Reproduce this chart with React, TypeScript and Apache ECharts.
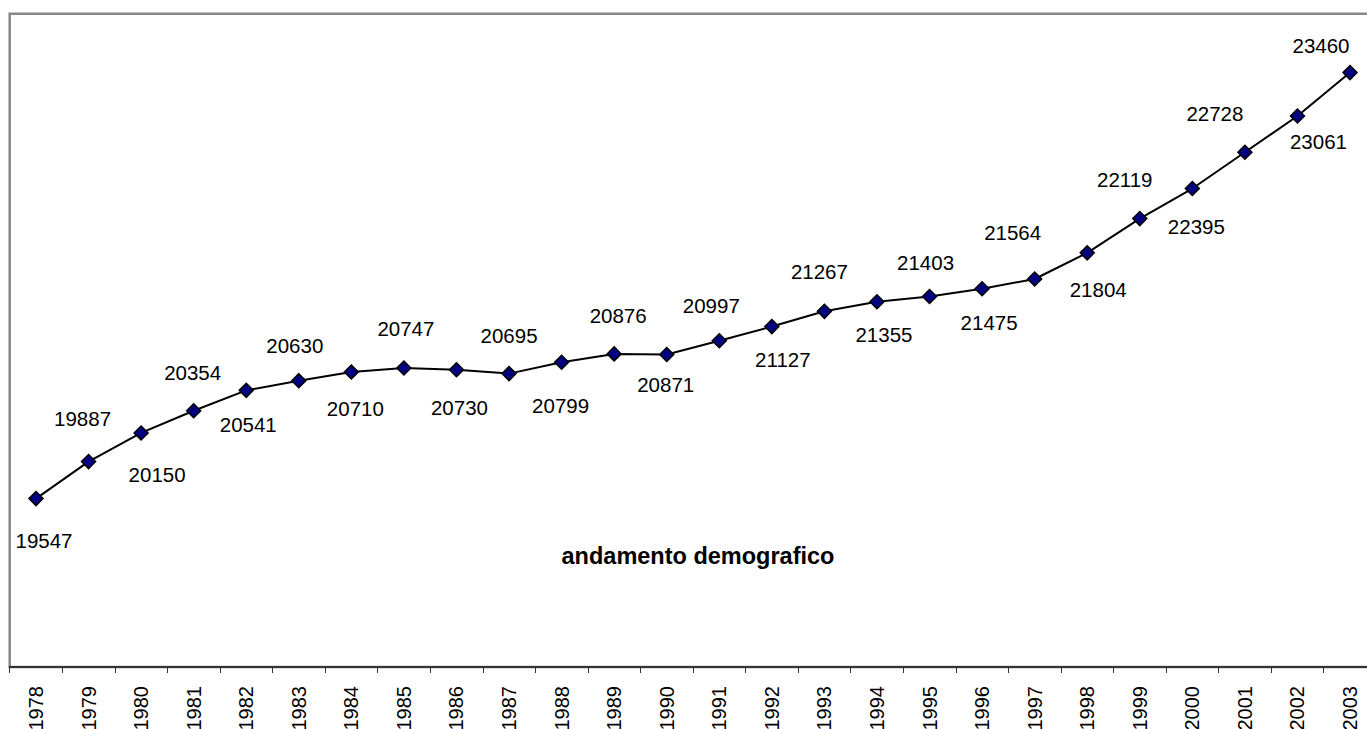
import React, { useEffect, useRef } from "react";
import * as echarts from "echarts";

const years = ["1978","1979","1980","1981","1982","1983","1984","1985","1986","1987","1988","1989","1990","1991","1992","1993","1994","1995","1996","1997","1998","1999","2000","2001","2002","2003"];
const population = [19547,19887,20150,20354,20541,20630,20710,20747,20730,20695,20799,20876,20871,20997,21127,21267,21355,21403,21475,21564,21804,22119,22395,22728,23061,23460];
// label offsets relative to the marker (dx, dy)
const labelOffsets: [number, number][] = [
  [8, 42], [-6, -43], [16, 42], [-1, -38], [2, 34], [-4, -35], [4, 37], [2, -39], [3, 38], [0, -38],
  [-1, 43], [4, -38], [-1, 30], [-8, -35], [11, 33], [-5, -40], [7, 33], [-4, -34], [7, 34], [-22, -46],
  [11, 37], [-15, -39], [4, 38], [-30, -39], [21, 25], [-29, -27],
];
const title = "andamento demografico";

export default function App() {
  const ref = useRef<HTMLDivElement>(null);
  useEffect(() => {
    if (!ref.current) return;
    const chart = echarts.init(ref.current, null, { renderer: "svg" });
    const font = "'Liberation Sans', Arial, sans-serif";
    chart.setOption({
      animation: false,
      backgroundColor: "#ffffff",
      title: {
        text: title,
        left: 698,
        top: 544,
        textAlign: "center",
        textStyle: { fontFamily: font, fontSize: 23.5, fontWeight: "bold", color: "#000" },
        padding: 0,
      },
      grid: {
        left: 9.7,
        top: 13.8,
        width: 1366.6,
        height: 653.2,
        outerBoundsMode: "none",
        containLabel: false,
        show: true,
        borderColor: "#888888",
        borderWidth: 2.5,
        backgroundColor: "transparent",
      },
      xAxis: {
        type: "category",
        data: years,
        boundaryGap: true,
        axisLine: { show: true, lineStyle: { color: "#333333", width: 2 } },
        axisTick: { show: true, length: 6, lineStyle: { color: "#333333", width: 1 } },
        axisLabel: {
          rotate: 90,
          margin: 19,
          fontFamily: font,
          fontSize: 20,
          color: "#000",
          interval: 0,
        },
        splitLine: { show: false },
      },
      yAxis: {
        type: "value",
        min: 18000,
        max: 24000,
        show: false,
        splitLine: { show: false },
      },
      series: [
        {
          type: "line",
          data: population.map((v, i) => ({
            value: v,
            label: { offset: labelOffsets[i] },
          })),
          symbol: "diamond",
          symbolSize: 14,
          lineStyle: { color: "#000000", width: 2 },
          itemStyle: { color: "#000080", borderColor: "#000000", borderWidth: 1.5 },
          label: {
            show: true,
            position: "inside",
            fontFamily: font,
            fontSize: 20.5,
            color: "#000",
          },
        },
      ],
    });
    return () => chart.dispose();
  }, []);
  return (
    <div
      ref={ref}
      style={{ position: "absolute", left: 0, top: 0, width: 1367, height: 729, overflow: "hidden" }}
    />
  );
}
